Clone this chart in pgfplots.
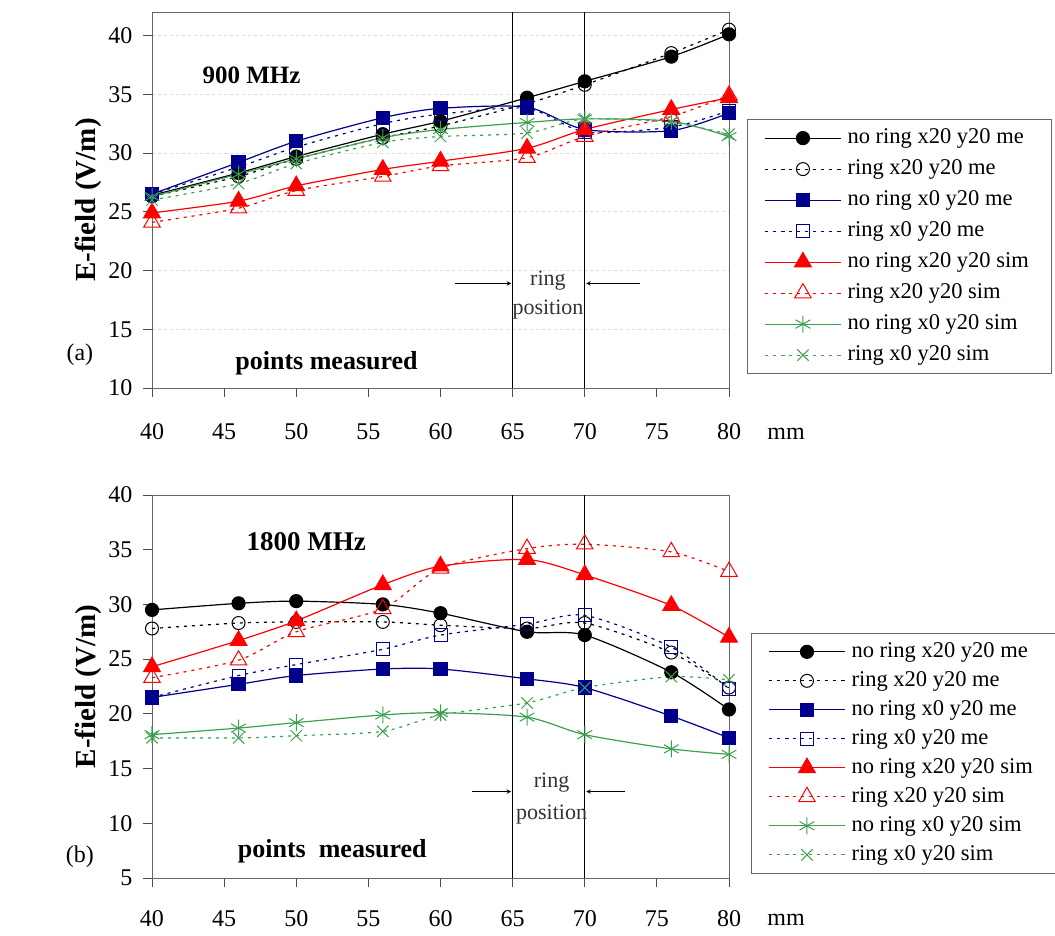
\documentclass[border=0pt]{standalone}
\usepackage{pgfplots}
\pgfplotsset{compat=1.18}
\usepackage{fontspec}
\setmainfont{Liberation Serif}
\definecolor{cnavy}{RGB}{0,0,140}
\definecolor{cred}{RGB}{255,0,0}
\definecolor{cgreen}{RGB}{60,160,80}
\newcommand{\fs}{\fontsize{24}{28}\selectfont}
\newcommand{\fl}{\fontsize{22.5}{26}\selectfont}
\newcommand{\fr}{\fontsize{22}{26}\selectfont}
\newcommand{\fb}{\fontsize{25}{29}\selectfont\bfseries}

\pgfplotsset{
  legend image code/.code={\draw[mark repeat=2,mark phase=2,#1] plot coordinates {(0pt,0pt) (38pt,0pt) (76pt,0pt)};},
  base/.style={
    scale only axis, width=577pt, clip=false,
    xmin=40, xmax=80, xtick={40,45,...,80},
    tick align=outside, tick pos=left, major tick length=9pt,
    axis line style={gray!80!black, line width=0.9pt},
    tick style={gray!60!black, line width=0.9pt},
    ticklabel style={font=\fs},
    yticklabel shift=7pt,
    /pgf/number format/assume math mode=true,
    every axis y label/.style={at={(axis description cs:-0.111,0.5)},rotate=90,anchor=center,font=\fontsize{29}{33}\selectfont\bfseries},
    ylabel={E-field (V/m)},
    legend cell align=left,
    legend style={font=\fl, draw=gray!80!black, line width=0.9pt, anchor=north west,
      inner xsep=17pt, inner ysep=4pt,
      nodes={inner xsep=6pt, inner ysep=4pt, text height=16pt, text depth=5pt}},
    every axis plot/.append style={smooth, tension=0.45, line width=1.2pt, mark options={solid}},
  },
  s1/.style={black, mark=*, mark size=6.5pt},
  s2/.style={black, dash pattern=on 3pt off 5pt, mark=o, mark size=6.5pt, mark options={solid, line width=1pt}},
  s3/.style={cnavy, mark=square*, mark size=6.5pt},
  s4/.style={cnavy, dash pattern=on 3pt off 5pt, mark=square, mark size=6.5pt, mark options={solid, line width=1pt}},
  s5/.style={cred, mark=triangle*, mark size=9.5pt},
  s6/.style={cred, dash pattern=on 3pt off 5pt, mark=triangle, mark size=9.5pt, mark options={solid, line width=1pt}},
  s7/.style={cgreen, mark=asterisk, mark size=8.5pt, mark options={solid, line width=1pt}},
  s8/.style={cgreen, dash pattern=on 3pt off 5pt, mark=x, mark size=8pt, mark options={solid, line width=1pt}},
}

\begin{document}
\begin{tikzpicture}
\useasboundingbox (0,0) rectangle (1055pt,936pt);

% ---------- (a) 900 MHz ----------
\begin{axis}[base, at={(152pt,548pt)}, anchor=south west, height=376pt,
  ymin=10, ymax=42, ytick={10,15,...,40},
  ymajorgrids, major grid style={gray!30, dashed, line width=0.6pt},
  xticklabel shift=23pt,
  legend style={at={(1.031,0.715)}, row sep=2pt}]
\addplot[s1] coordinates {(40,26.4) (46,28.3) (50,29.7) (56,31.6) (60,32.7) (66,34.7) (70,36.1) (76,38.2) (80,40.1)};
\addlegendentry{no ring x20 y20 me}
\addplot[s2] coordinates {(40,26.3) (46,28.0) (50,29.5) (56,31.3) (60,32.3) (66,34.2) (70,35.8) (76,38.5) (80,40.5)};
\addlegendentry{ring x20 y20 me}
\addplot[s3] coordinates {(40,26.5) (46,29.2) (50,31.0) (56,33.0) (60,33.8) (66,33.9) (70,32.0) (76,31.9) (80,33.4)};
\addlegendentry{no ring x0 y20 me}
\addplot[s4] coordinates {(40,26.5) (46,28.8) (50,30.5) (56,32.5) (60,33.3) (66,33.8) (70,31.8) (76,32.2) (80,33.6)};
\addlegendentry{ring x0 y20 me}
\addplot[s5] coordinates {(40,24.9) (46,25.9) (50,27.2) (56,28.6) (60,29.3) (66,30.4) (70,32.0) (76,33.7) (80,34.7)};
\addlegendentry{no ring x20 y20 sim}
\addplot[s6] coordinates {(40,24.1) (46,25.3) (50,26.8) (56,28.0) (60,28.9) (66,29.6) (70,31.4) (76,33.1) (80,34.9)};
\addlegendentry{ring x20 y20 sim}
\addplot[s7] coordinates {(40,26.3) (46,28.2) (50,29.5) (56,31.3) (60,32.0) (66,32.6) (70,32.9) (76,32.7) (80,31.4)};
\addlegendentry{no ring x0 y20 sim}
\addplot[s8] coordinates {(40,26.0) (46,27.4) (50,29.1) (56,30.9) (60,31.4) (66,31.7) (70,32.9) (76,32.6) (80,31.6)};
\addlegendentry{ring x0 y20 sim}
\draw[black, line width=1.2pt] (axis cs:65,10) -- (axis cs:65,42);
\draw[black, line width=1.2pt] (axis cs:70,10) -- (axis cs:70,42);
\draw[-stealth, line width=1pt] (axis cs:61.0,18.9) -- (axis cs:64.9,18.9);
\draw[-stealth, line width=1pt] (axis cs:73.8,18.9) -- (axis cs:70.1,18.9);
\node[font=\fr, text=black!80] at (axis cs:67.45,19.1) {ring};
\node[font=\fr, text=black!80] at (axis cs:67.45,16.7) {position};
\node[font=\fb] at (axis cs:46.9,36.6) {900 MHz};
\node[font=\fontsize{26}{30}\selectfont\bfseries] at (axis cs:52.1,12.1) {points measured};
\node[font=\fs] at (rel axis cs:1.099,-0.121) {mm};
\node[font=\fs] at (rel axis cs:-0.125,0.088) {(a)};
\end{axis}

% ---------- (b) 1800 MHz ----------
\begin{axis}[base, at={(152pt,58pt)}, anchor=south west, height=383pt,
  ymin=5, ymax=40, ytick={5,10,...,40},
  xticklabel shift=20.5pt,
  legend style={at={(1.038,0.640)}, row sep=0pt}]
\addplot[s1] coordinates {(40,29.5) (46,30.1) (50,30.3) (56,30.0) (60,29.2) (66,27.5) (70,27.2) (76,23.8) (80,20.4)};
\addlegendentry{no ring x20 y20 me}
\addplot[s2] coordinates {(40,27.8) (46,28.3) (50,28.4) (56,28.4) (60,28.1) (66,27.8) (70,28.3) (76,25.6) (80,22.4)};
\addlegendentry{ring x20 y20 me}
\addplot[s3] coordinates {(40,21.5) (46,22.7) (50,23.5) (56,24.1) (60,24.1) (66,23.2) (70,22.4) (76,19.8) (80,17.8)};
\addlegendentry{no ring x0 y20 me}
\addplot[s4] coordinates {(40,21.5) (46,23.5) (50,24.5) (56,25.9) (60,27.2) (66,28.2) (70,29.0) (76,26.1) (80,22.3)};
\addlegendentry{ring x0 y20 me}
\addplot[s5] coordinates {(40,24.3) (46,26.7) (50,28.5) (56,31.8) (60,33.5) (66,34.1) (70,32.7) (76,29.9) (80,27.0)};
\addlegendentry{no ring x20 y20 sim}
\addplot[s6] coordinates {(40,23.3) (46,24.9) (50,27.5) (56,29.6) (60,33.3) (66,35.1) (70,35.5) (76,34.8) (80,33.0)};
\addlegendentry{ring x20 y20 sim}
\addplot[s7] coordinates {(40,18.1) (46,18.7) (50,19.2) (56,19.9) (60,20.1) (66,19.7) (70,18.1) (76,16.8) (80,16.3)};
\addlegendentry{no ring x0 y20 sim}
\addplot[s8] coordinates {(40,17.8) (46,17.8) (50,18.0) (56,18.4) (60,19.9) (66,21.0) (70,22.4) (76,23.4) (80,23.1)};
\addlegendentry{ring x0 y20 sim}
\draw[black, line width=1.2pt] (axis cs:65,5) -- (axis cs:65,40);
\draw[black, line width=1.2pt] (axis cs:70,5) -- (axis cs:70,40);
\draw[-stealth, line width=1pt] (axis cs:62.2,12.9) -- (axis cs:64.9,12.9);
\draw[-stealth, line width=1pt] (axis cs:72.8,12.9) -- (axis cs:70.1,12.9);
\node[font=\fr, text=black!80] at (axis cs:67.7,13.7) {ring};
\node[font=\fr, text=black!80] at (axis cs:67.7,10.8) {position};
\node[font=\fontsize{27}{31}\selectfont\bfseries] at (axis cs:50.7,35.7) {1800 MHz};
\node[font=\fontsize{26}{30}\selectfont\bfseries] at (axis cs:52.5,7.4) {points\ \ measured};
\node[font=\fs] at (rel axis cs:1.099,-0.110) {mm};
\node[font=\fs] at (rel axis cs:-0.125,0.055) {(b)};
\end{axis}
\end{tikzpicture}
\end{document}
